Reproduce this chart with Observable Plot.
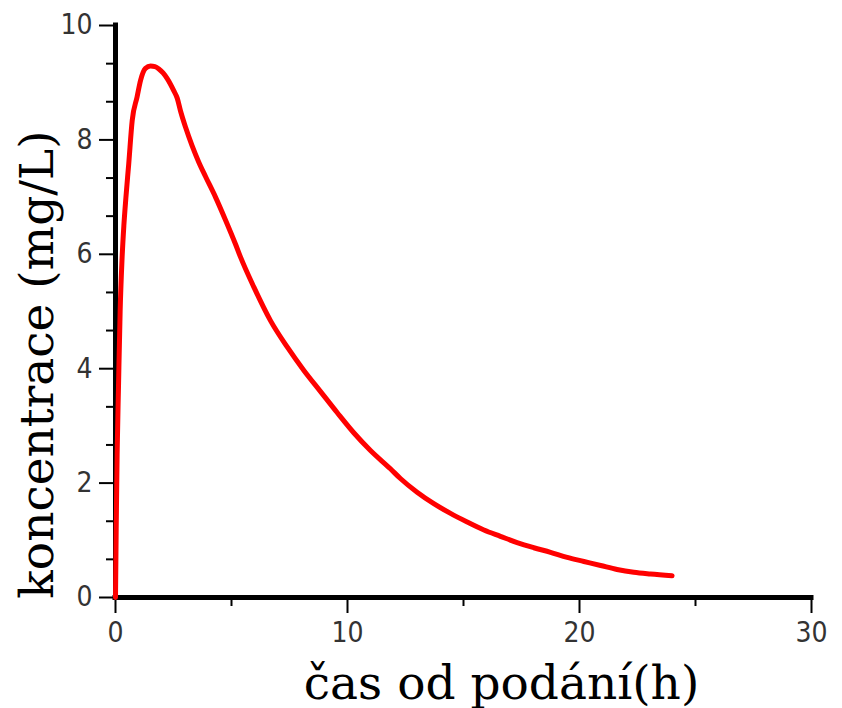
<!DOCTYPE html>
<html><head><meta charset="utf-8">
<script src="https://cdn.jsdelivr.net/npm/d3@7"></script>
<script src="https://cdn.jsdelivr.net/npm/@observablehq/plot@0.6"></script>
<style>body{margin:0;background:#fff}</style>
</head><body><div id="chart"></div>
<script>
// time since administration (h)
const time = [0, 0.03, 0.07, 0.13, 0.2, 0.28, 0.36, 0.45, 0.57, 0.72, 0.93, 1.08, 1.29, 1.51, 1.7, 1.87, 2.05, 2.23, 2.51, 2.66, 2.8, 3.02, 3.3, 3.59, 3.88, 4.31, 4.74, 5.17, 5.39, 5.96, 6.68, 7.4, 8.12, 8.84, 9.56, 10.27, 10.99, 11.85, 12.28, 13.0, 13.72, 14.44, 15.16, 15.88, 16.59, 17.31, 18.03, 18.75, 19.47, 20.19, 20.91, 21.62, 22.34, 23.06, 23.99];
// concentration (mg/L)
const concentration = [0, 1.2, 2.5, 3.7, 5.0, 5.9, 6.5, 7.0, 7.58, 8.34, 8.75, 9.04, 9.25, 9.29, 9.28, 9.24, 9.17, 9.07, 8.86, 8.73, 8.51, 8.22, 7.9, 7.61, 7.36, 7.0, 6.6, 6.18, 5.95, 5.43, 4.84, 4.38, 3.97, 3.6, 3.23, 2.88, 2.57, 2.25, 2.08, 1.84, 1.64, 1.47, 1.32, 1.18, 1.07, 0.96, 0.87, 0.79, 0.70, 0.63, 0.56, 0.49, 0.44, 0.41, 0.38];

const xMajorTicks = [0, 10, 20, 30];
const xMinorTicks = [5, 15, 25];
const yMajorTicks = [0, 2, 4, 6, 8, 10];
const yMinorTicks = [0.667, 1.333, 2.667, 3.333, 4.667, 5.333, 6.667, 7.333, 8.667, 9.333];
const xTitle = "čas od podání(h)";
const yTitle = "koncentrace (mg/L)";

const data = time.map((t, i) => ({t, c: concentration[i]}));
const tickFont = "'Liberation Sans Narrow', 'DejaVu Sans Condensed', 'Liberation Sans', sans-serif";
const titleFont = "'DejaVu Serif', serif";

const chart = Plot.plot({
  width: 842, height: 708,
  marginLeft: 115, marginRight: 31, marginTop: 25, marginBottom: 111,
  x: {domain: [0, 30]},
  y: {domain: [0, 10]},
  style: {background: "white", fontFamily: tickFont, overflow: "visible"},
  marks: [
    Plot.axisX({ticks: xMinorTicks, tickSize: 9, text: null, label: null, strokeWidth: 2, stroke: "black"}),
    Plot.axisX({ticks: xMajorTicks, tickSize: 16, tickPadding: 9, label: null, fontSize: 28, fontFamily: tickFont, fill: "#333", stroke: "black", strokeWidth: 2, tickFormat: d => String(d)}),
    Plot.axisY({ticks: yMinorTicks, tickSize: 9, text: null, label: null, strokeWidth: 2, stroke: "black"}),
    Plot.axisY({ticks: yMajorTicks, tickSize: 16, tickPadding: 7, label: null, fontSize: 28, fontFamily: tickFont, fill: "#333", stroke: "black", strokeWidth: 2, tickFormat: d => String(d)}),
    Plot.ruleY([0], {stroke: "black", strokeWidth: 5, strokeLinecap: "square"}),
    Plot.ruleX([0], {stroke: "black", strokeWidth: 5, strokeLinecap: "square"}),
    Plot.line(data, {x: "t", y: "c", stroke: "red", strokeWidth: 5, curve: "monotone-x"}),
    Plot.text([xTitle], {text: d => d, frameAnchor: "bottom", lineAnchor: "bottom", dx: 38, dy: 101, fontSize: 47, fontFamily: titleFont, fill: "black"}),
    Plot.text([yTitle], {text: d => d, frameAnchor: "left", textAnchor: "middle", lineAnchor: "bottom", rotate: -90, dx: -63, dy: 53, fontSize: 47, fontFamily: titleFont, fill: "black"})
  ]
});
document.getElementById("chart").appendChild(chart);
</script>
</body></html>
